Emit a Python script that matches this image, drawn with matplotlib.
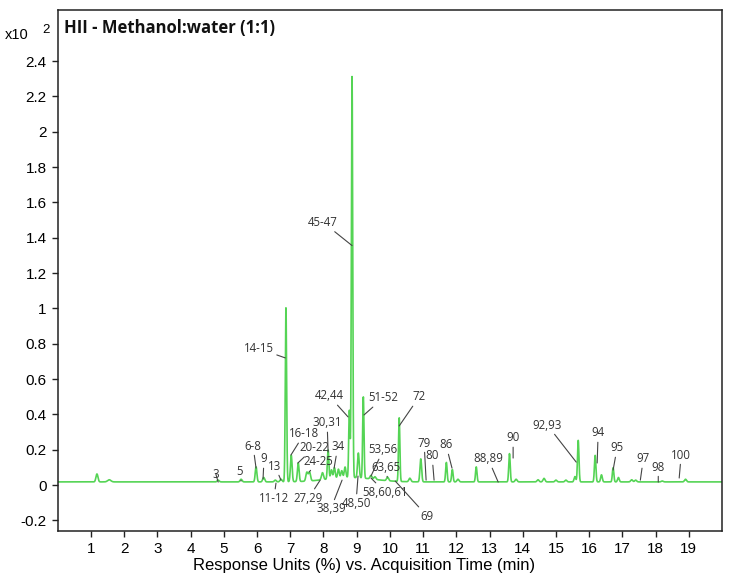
import numpy as np
import matplotlib
matplotlib.use("Agg")
import matplotlib.pyplot as plt

# ---------------- data ----------------
# peak apex times (min), heights above baseline (x10^2 %), widths (sigma, min)
peak_t = [1.18, 1.55, 4.83, 5.52, 5.97, 6.20, 6.55, 6.72, 6.87, 7.03, 7.24,
          7.50, 7.58, 7.97, 8.14, 8.24, 8.33, 8.45, 8.55, 8.65, 8.78, 8.86,
          9.05, 9.20, 9.43, 9.55, 9.93, 10.28, 10.60, 10.93, 11.70, 11.88,
          12.05, 12.60, 13.60, 13.80, 14.46, 14.64, 15.00, 15.30, 15.57,
          15.67, 16.18, 16.37, 16.72, 16.88, 17.28, 17.40, 18.20, 18.90,
          8.80]
peak_h = [0.045, 0.012, 0.010, 0.015, 0.085, 0.025, 0.010, 0.015, 0.985,
          0.150, 0.105, 0.050, 0.050, 0.040, 0.165, 0.050, 0.060, 0.050,
          0.040, 0.060, 0.380, 2.270, 0.140, 0.460, 0.020, 0.015, 0.020,
          0.360, 0.020, 0.130, 0.110, 0.070, 0.015, 0.085, 0.160, 0.015,
          0.012, 0.020, 0.010, 0.010, 0.030, 0.235, 0.150, 0.040, 0.080,
          0.025, 0.012, 0.010, 0.005, 0.015,
          0.025]
peak_w = [0.03, 0.05, 0.03, 0.03, 0.025, 0.03, 0.03, 0.03, 0.02, 0.025,
          0.025, 0.03, 0.03, 0.03, 0.022, 0.025, 0.025, 0.025, 0.025, 0.025,
          0.02, 0.02, 0.025, 0.02, 0.03, 0.03, 0.03, 0.02, 0.03, 0.025,
          0.022, 0.022, 0.03, 0.022, 0.022, 0.03, 0.03, 0.03, 0.03, 0.03,
          0.025, 0.022, 0.022, 0.025, 0.022, 0.025, 0.03, 0.03, 0.03, 0.03,
          0.7]
baseline = 0.018

# compound annotations: label, apex it points at (t, value)
ann_labels = ["3", "5", "6-8", "9", "11-12", "13", "14-15", "16-18", "20-22",
              "24-25", "27,29", "30,31", "34", "38,39", "42,44", "45-47",
              "48,50", "51-52", "53,56", "58,60,61", "63,65", "69", "72",
              "79", "80", "86", "88,89", "90", "92,93", "94", "95", "97",
              "98", "100"]
ann_peak_t = [4.83, 5.52, 5.97, 6.18, 6.57, 6.72, 6.85, 7.02, 7.23, 7.57,
              7.90, 8.14, 8.32, 8.56, 8.74, 8.86, 9.04, 9.22, 9.43, 9.43,
              9.92, 10.16, 10.28, 11.09, 11.33, 11.87, 13.26, 13.71, 15.61,
              16.24, 16.72, 17.54, 18.08, 18.71]
ann_peak_v = [0.017, 0.023, 0.096, 0.034, 0.011, 0.028, 0.72, 0.17, 0.125,
              0.074, 0.028, 0.187, 0.096, 0.028, 0.386, 1.356, 0.051, 0.397,
              0.051, 0.04, 0.045, 0.023, 0.335, 0.028, 0.028, 0.096, 0.017,
              0.153, 0.13, 0.125, 0.085, 0.028, 0.017, 0.04]

# where each label sits (layout only)
ann_text_pos = [(4.76, 0.062), (5.46, 0.079), (5.88, 0.221), (6.21, 0.148),
                (6.51, -0.074), (6.54, 0.108), (6.06, 0.772), (7.42, 0.29),
                (7.72, 0.212), (7.84, 0.136), (7.55, -0.074), (8.11, 0.352),
                (8.43, 0.216), (8.22, -0.135), (8.17, 0.505), (7.99, 1.487),
                (8.98, -0.102), (9.80, 0.494), (9.80, 0.199), (9.85, -0.04),
                (9.88, 0.102), (11.12, -0.176), (10.88, 0.499), (11.03, 0.238),
                (11.27, 0.165), (11.69, 0.227), (12.96, 0.148), (13.71, 0.267),
                (14.74, 0.34), (16.27, 0.295), (16.84, 0.21), (17.63, 0.148),
                (18.08, 0.102), (18.77, 0.17)]

# ---------------- trace ----------------
t = np.linspace(0, 20, 8001)
y = np.full_like(t, baseline)
for p, h, w in zip(peak_t, peak_h, peak_w):
    y += h * np.exp(-0.5 * ((t - p) / w) ** 2)

fig = plt.figure(figsize=(7.34, 5.85), dpi=100)
ax = fig.add_axes([0.0787, 0.0923, 0.905, 0.8907])

ax.plot(t, y, color="#55d455", lw=1.2)

for lab, pt, pv, (tx, ty) in zip(ann_labels, ann_peak_t, ann_peak_v, ann_text_pos):
    ax.annotate(lab, xy=(pt, pv), xytext=(tx, ty), ha="center", va="center",
                fontsize=8.3, color="#333333", family="Open Sans",
                arrowprops=dict(arrowstyle="-", color="#444444", lw=0.8,
                                shrinkA=0, shrinkB=0))

ax.set_xlim(0, 20)
ax.set_ylim(-0.26, 2.69)
ax.set_xticks(range(1, 20))
yt = [-0.2, 0, 0.2, 0.4, 0.6, 0.8, 1, 1.2, 1.4, 1.6, 1.8, 2, 2.2, 2.4]
ax.set_yticks(yt)
ax.set_yticklabels(["%g" % v for v in yt])
for lbl in ax.get_xticklabels() + ax.get_yticklabels():
    lbl.set_family("Liberation Sans")
    lbl.set_fontsize(11)
ax.tick_params(direction="out", length=4, width=1, color="#222222", pad=4)
for s in ax.spines.values():
    s.set_color("#222222")
    s.set_linewidth(1.1)

ax.text(0.009, 0.965, "HII - Methanol:water (1:1)", transform=ax.transAxes,
        ha="left", va="center", fontsize=12, fontweight="bold",
        family="Open Sans", color="#111111")
fig.text(0.006, 0.94, "x10", ha="left", va="center", fontsize=10.5,
         family="Liberation Sans")
fig.text(0.058, 0.948, "2", ha="left", va="center", fontsize=9.5,
         family="Liberation Sans")
fig.text(0.496, 0.034, "Response Units (%) vs. Acquisition Time (min)",
         ha="center", va="center", fontsize=12, family="Liberation Sans")

fig.savefig("out.png", dpi=100)
